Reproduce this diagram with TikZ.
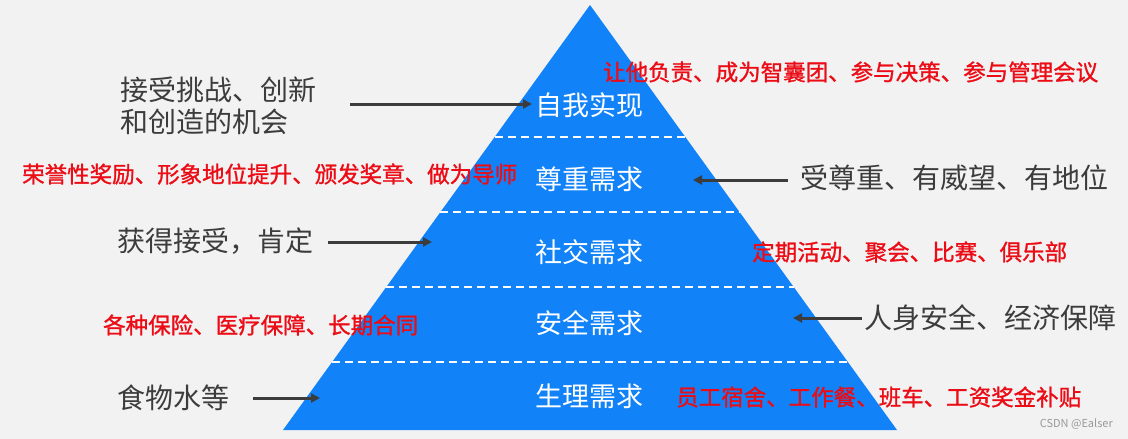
\documentclass[tikz,border=0pt]{standalone}
\usepackage{fontspec}
\setmainfont{Noto Sans CJK SC}
\newfontfamily\perkfont[FakeBold=1.2]{Noto Sans CJK SC}
\usetikzlibrary{arrows.meta}
\definecolor{bg}{RGB}{242,242,242}
\definecolor{pyr}{RGB}{18,130,248}
\definecolor{txt}{RGB}{60,60,60}
\definecolor{hl}{RGB}{236,12,22}
\begin{document}
\begin{tikzpicture}[x=1pt,y=-1pt,>={Triangle[length=9pt,width=9pt]},line join=round,
  grey/.style={text=txt,font=\fontsize{28}{32}\selectfont,inner sep=0pt,anchor=west},
  perk/.style={text=hl,font=\fontsize{22.5}{26}\perkfont,inner sep=0pt,anchor=west},
  level/.style={text=white,font=\fontsize{27}{30}\selectfont,inner sep=0pt},
  arr/.style={->,draw=txt,line width=3pt},
  divider/.style={draw=white,line width=2.5pt,dash pattern=on 8pt off 5pt}]
\fill[bg] (0,0) rectangle (1128,439);
\coordinate (apex) at (590,5);
\coordinate (bl) at (283,430);
\coordinate (br) at (897,430);
\fill[pyr] (apex)--(br)--(bl)--cycle;
\foreach \y in {137,212,287,362}
{
\draw[divider] ({590-0.7224*(\y-5)},\y)--({590+0.7224*(\y-5)},\y);
}
\node[level] (self) at (589,105){自我实现};
\node[level] (esteem) at (589,179){尊重需求};
\node[level] (social) at (589,252){社交需求};
\node[level] (safety) at (589,323){安全需求};
\node[level] (body) at (589,396){生理需求};
\node[grey,align=left] (challenge) at (120,106){接受挑战、创新\\和创造的机会};
\node[grey] (respect) at (800,178){受尊重、有威望、有地位};
\node[grey] (accept) at (117,241){获得接受，肯定};
\node[grey] (secure) at (864,318){人身安全、经济保障};
\node[grey] (food) at (117,398){食物水等};
\coordinate (t1) at (532,104);
\coordinate (t2) at (693,180);
\coordinate (t3) at (432,242);
\coordinate (t4) at (793,318);
\coordinate (t5) at (320,398);
\draw[arr,shorten <=34pt] (challenge.east|-t1)--(t1);
\draw[arr,shorten <=12pt] (respect.west|-t2)--(t2);
\draw[arr,shorten <=15pt] (accept.east|-t3)--(t3);
\draw[arr,shorten <=2pt] (secure.west|-t4)--(t4);
\draw[arr,shorten <=24pt] (food.east|-t5)--(t5);
\node[perk] (p1) at (603,72){让他负责、成为智囊团、参与决策、参与管理会议};
\node[perk] (p2) at (22,174){荣誉性奖励、形象地位提升、颁发奖章、做为导师};
\node[perk] (p3) at (752,252){定期活动、聚会、比赛、俱乐部};
\node[perk] (p4) at (103,325){各种保险、医疗保障、长期合同};
\node[perk] (p5) at (676,397){员工宿舍、工作餐、班车、工资奖金补贴};
\node[text=black!40,font=\fontsize{11}{12}\selectfont,inner sep=0pt,anchor=east] (mark) at (1113,424){CSDN @Ealser};
\end{tikzpicture}
\end{document}
